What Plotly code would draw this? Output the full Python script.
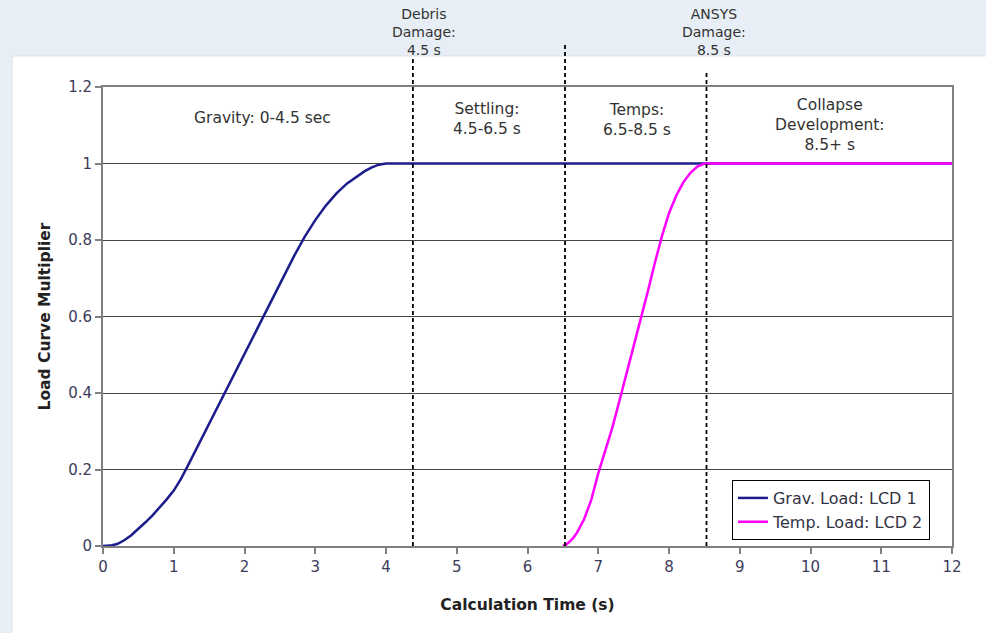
import plotly.graph_objects as go

# Grav. Load: LCD 1
grav_t = [0, 0.1, 0.2, 0.3, 0.4, 0.5, 0.6, 0.7, 0.8, 0.9, 1.0, 1.1, 1.2, 1.35, 1.5, 1.65, 1.8,
          1.95, 2.1, 2.25, 2.4, 2.55, 2.7, 2.85, 3.0, 3.15, 3.3, 3.45, 3.6, 3.7, 3.8, 3.9, 4.0, 12]
grav_v = [0, 0.001, 0.005, 0.015, 0.028, 0.044, 0.062, 0.08, 0.1, 0.122, 0.145, 0.175, 0.21,
          0.265, 0.32, 0.375, 0.43, 0.485, 0.54, 0.595, 0.65, 0.705, 0.758, 0.808, 0.852,
          0.89, 0.922, 0.948, 0.968, 0.98, 0.99, 0.997, 1.0, 1.0]

# Temp. Load: LCD 2
temp_t = [6.5, 6.55, 6.6, 6.65, 6.7, 6.8, 6.9, 7.0, 7.1, 7.2, 7.3, 7.4, 7.5, 7.6, 7.7, 7.8,
          7.9, 8.0, 8.1, 8.2, 8.3, 8.4, 8.5, 12]
temp_v = [0, 0.004, 0.012, 0.022, 0.035, 0.07, 0.12, 0.19, 0.25, 0.31, 0.38, 0.45, 0.52,
          0.59, 0.665, 0.74, 0.81, 0.87, 0.915, 0.95, 0.975, 0.992, 1.0, 1.0]

# dashed event lines: x position, top (paper units)
event_x = [4.38, 6.53, 8.53]
event_top = [1.063, 1.098, 1.037]

# phase labels inside the plot
phase_text = ["Gravity: 0-4.5 sec", "Settling:<br>4.5-6.5 s", "Temps:<br>6.5-8.5 s",
              "Collapse<br>Development:<br>8.5+ s"]
phase_x = [2.26, 5.43, 7.55, 10.28]
phase_y = [1.12, 1.117, 1.115, 1.10]

# event labels above the plot
event_text = ["Debris<br>Damage:<br>4.5 s", "ANSYS<br>Damage:<br>8.5 s"]
event_lx = [4.54, 8.64]

FONT = "DejaVu Sans"

fig = go.Figure()
fig.add_trace(go.Scatter(x=grav_t, y=grav_v, mode="lines", name="Grav. Load: LCD 1",
                         line=dict(color="#1c1c8c", width=2.5)))
fig.add_trace(go.Scatter(x=temp_t, y=temp_v, mode="lines", name="Temp. Load: LCD 2",
                         line=dict(color="#ff00ff", width=2.5)))

# white chart area on the bluish page
fig.add_shape(type="rect", xref="paper", yref="paper", x0=-0.107, x1=1.05, y0=-0.2, y1=1.0675,
              fillcolor="white", line=dict(color="#dde3ea", width=1), layer="below")

for x, top in zip(event_x, event_top):
    fig.add_shape(type="line", xref="x", yref="paper", x0=x, x1=x, y0=0, y1=top,
                  line=dict(color="black", width=1.8, dash="4px,3px"))

for t, x, y in zip(phase_text, phase_x, phase_y):
    fig.add_annotation(x=x, y=y, xref="x", yref="y", text=t, showarrow=False,
                       font=dict(family=FONT, size=15.5, color="#333333"), yanchor="middle")

for t, x in zip(event_text, event_lx):
    fig.add_annotation(x=x, y=1.058, xref="x", yref="paper", text=t, showarrow=False,
                       font=dict(family=FONT, size=14, color="#333333"), yanchor="bottom")

fig.update_layout(
    width=986, height=633,
    margin=dict(l=103, r=34, t=87, b=87),
    paper_bgcolor="#e8eef5", plot_bgcolor="white",
    font=dict(family=FONT, size=15, color="#3c3c5a"),
    showlegend=True,
    legend=dict(x=0.974, y=0.013, xanchor="right", yanchor="bottom",
                bgcolor="white", bordercolor="black", borderwidth=1,
                font=dict(family=FONT, size=16, color="#333344"),
                tracegroupgap=0, itemwidth=30),
    hovermode=False,
)
fig.update_xaxes(range=[0, 12], dtick=1, tick0=0, showgrid=False, zeroline=False,
                 showline=True, linecolor="#808080", linewidth=2, mirror=True,
                 ticks="outside", ticklen=6, tickcolor="#808080", tickwidth=2,
                 title=dict(text="<b>Calculation Time (s)</b>", standoff=24,
                            font=dict(family=FONT, size=15.5, color="#222222")))
fig.update_yaxes(range=[0, 1.2], dtick=0.2, tick0=0, showgrid=True, gridcolor="#444444",
                 gridwidth=1, zeroline=False,
                 showline=True, linecolor="#808080", linewidth=2, mirror=True,
                 ticks="outside", ticklen=6, tickcolor="#808080", tickwidth=2,
                 title=dict(text="<b>Load Curve Multiplier</b>", standoff=14,
                            font=dict(family=FONT, size=15.5, color="#222222")))

fig.write_html("out.html", config={"displayModeBar": False},
               post_script="document.body.style.margin='0';")
